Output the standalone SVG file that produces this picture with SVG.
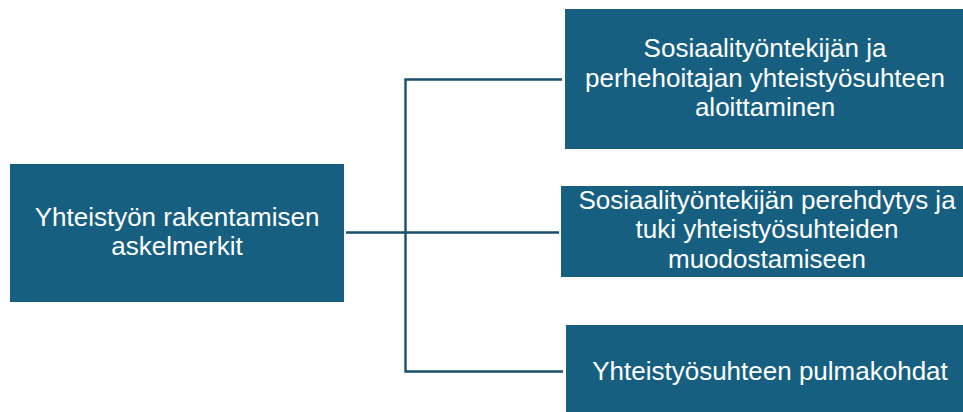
<svg xmlns="http://www.w3.org/2000/svg" width="963" height="412" viewBox="0 0 963 412">
<style>
.box{fill:#175f80;}
.lbl{fill:#ffffff;font-family:"Liberation Sans",Arial,sans-serif;font-size:26px;text-anchor:middle;}
.con{fill:none;stroke:#1a4f6b;stroke-width:2.4;}
</style>
<rect width="963" height="412" fill="#ffffff"/>
<g id="connectors">
<path class="con" d="M346 232.5 H559"/>
<path class="con" d="M562 79.5 H405.5 V371.5 H563"/>
</g>
<g id="root">
<rect class="box" x="10" y="164" width="334" height="138"/>
<text class="lbl" x="177" y="226">Yhteistyön rakentamisen</text>
<text class="lbl" x="177" y="255">askelmerkit</text>
</g>
<g id="n1">
<rect class="box" x="565" y="9" width="398" height="140"/>
<text class="lbl" x="765" y="57">Sosiaalityöntekijän ja</text>
<text class="lbl" x="765" y="87">perhehoitajan yhteistyösuhteen</text>
<text class="lbl" x="765" y="116">aloittaminen</text>
</g>
<g id="n2">
<rect class="box" x="561" y="186" width="402" height="91"/>
<text class="lbl" x="767" y="209">Sosiaalityöntekijän perehdytys ja</text>
<text class="lbl" x="767" y="238">tuki yhteistyösuhteiden</text>
<text class="lbl" x="767" y="268">muodostamiseen</text>
</g>
<g id="n3">
<rect class="box" x="566" y="325" width="397" height="87"/>
<text class="lbl" x="770" y="380">Yhteistyösuhteen pulmakohdat</text>
</g>
</svg>
